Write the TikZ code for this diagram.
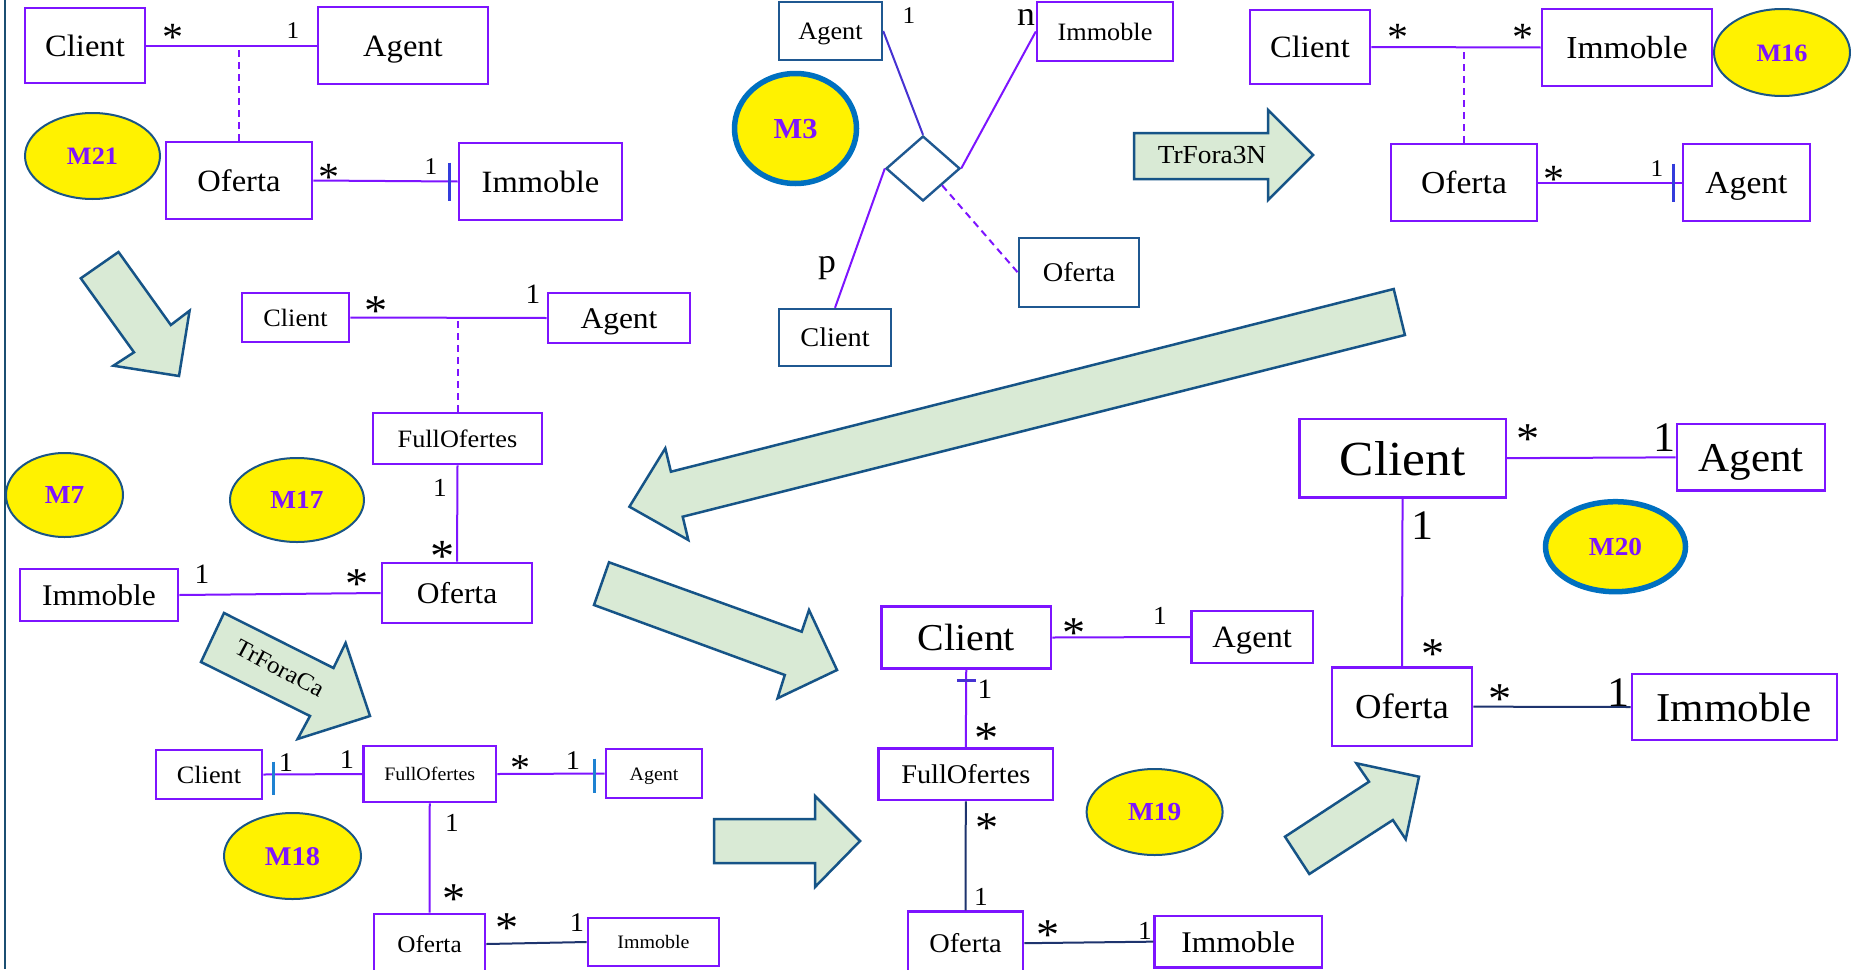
\documentclass[tikz,border=0pt]{standalone}
\usepackage{fontspec}
\setmainfont[FakeStretch=1.05]{Liberation Serif}
\usetikzlibrary{shapes.geometric,calc}
\definecolor{vio}{RGB}{125,20,255}
\definecolor{mblue}{RGB}{31,88,145}
\definecolor{navy}{RGB}{30,52,110}
\definecolor{tkb}{RGB}{50,60,220}
\definecolor{tkl}{RGB}{30,130,210}
\definecolor{agl}{RGB}{70,50,210}
\definecolor{arrb}{RGB}{22,84,135}
\definecolor{arrf}{RGB}{217,234,213}
\definecolor{elb}{RGB}{25,85,135}
\definecolor{elt}{RGB}{0,112,192}
\definecolor{brd}{RGB}{27,79,114}
\tikzset{
  fs/.code={\pgfmathsetmacro\tmpth{0.69*#1}\tikzset{font=\fontsize{#1}{#1}\selectfont, text height=\tmpth pt, text depth=0pt}},
  mf/.code={\pgfmathsetmacro\tmpth{0.69*#1}\tikzset{font=\fontsize{#1}{#1}\selectfont\bfseries, text height=\tmpth pt, text depth=0pt}},
  cls/.style={rectangle, draw=vio, line width=2.6, inner sep=0},
  clsb/.style={rectangle, draw=mblue, line width=2.4, inner sep=0},
  lnk/.style={draw=#1, line width=2},
  lnk/.default=vio,
  dsh/.style={dash pattern=on 7pt off 5pt},
  tk/.style={draw=#1, line width=2.5},
  one/.style={inner sep=0, font=\fontsize{#1}{#1}\selectfont},
  ast/.style={inner sep=0, font=\fontsize{#1}{#1}\selectfont, yshift={-0.14*#1}},
  mell/.style={ellipse, draw=elb, line width=2, fill=yellow, text=vio, inner sep=0},
  thk/.style={draw=elt, line width=5.5},
  arw/.style={draw=arrb, fill=arrf, line width=2.5, line join=miter}
}
\begin{document}
\begin{tikzpicture}[x=1pt,y=-1pt]
\useasboundingbox (0,0) rectangle (1851,969);
\clip (0,0) rectangle (1851,969);
\fill[white] (0,0) rectangle (1851,969);
\draw[brd, line width=2.5] (5,0) -- (5,969);

% ---------- M21 ----------
\node[cls, fs=31, minimum width=120, minimum height=75] (c1) at (85,45.5) {Client};
\node[cls, fs=31, minimum width=170, minimum height=77] (a1) at (403,45.5) {Agent};
\node[cls, fs=31, minimum width=146, minimum height=77] (o1) at (239,180.5) {Oferta};
\node[cls, fs=31, minimum width=163, minimum height=77] (i1) at (540.5,181.5) {Immoble};
\draw[lnk] (c1.east) -- (a1.west);
\draw[lnk, dsh] (o1.north) -- (o1.north |- c1.east);
\draw[lnk] (o1.east) -- (i1.west);
\draw[tk=tkb] ([xshift=-8]i1.west) ++(0,-19) -- ++(0,38);
\node[ast=40] (s1) at (173,32) {*};
\node[one=24] (u1) at (293,31) {1};
\node[ast=40] (s2) at (329,172) {*};
\node[one=24] (u2) at (431,167) {1};
\node[mell, mf=25, minimum width=135, minimum height=86] (e21) at (92.5,156) {M21};

% ---------- M3 ----------
\node[clsb, fs=25, minimum width=103, minimum height=58] (a2) at (830.5,31) {Agent};
\node[cls, line width=2.4, fs=25, minimum width=136, minimum height=59] (i2) at (1105,31.5) {Immoble};
\node[clsb, fs=27, minimum width=112, minimum height=57] (c3) at (835,337.5) {Client};
\node[clsb, fs=27, minimum width=120, minimum height=69] (o2) at (1079,272.5) {Oferta};
\node[diamond, draw=mblue, line width=2.4, minimum width=74, minimum height=65, inner sep=0] (d) at (923,168.5) {};
\draw[lnk=agl] (a2.east) -- (d.north);
\draw[lnk] (i2.west) -- (d.east);
\draw[lnk] (c3.north) -- (d.west);
\draw[lnk, dsh] ($(d.east)!0.5!(d.south)$) -- (o2.west);
\node[one=24] (u3) at (909,16) {1};
\node[one=34] (nn) at (1026,17) {n};
\node[one=34] (pp) at (827,268) {p};
\node[mell, thk, mf=29, minimum width=122, minimum height=110] (e3) at (795.5,128.5) {M3};

% arrow TrFora3N
\draw[arw] (1134,133) -- (1268,133) -- (1268,110) -- (1313,155) -- (1268,200) -- (1268,179) -- (1134,179) -- cycle;
\node[fs=26, inner sep=0] (t3n) at (1212,155) {TrFora3N};

% ---------- M16 ----------
\node[cls, fs=31, minimum width=120, minimum height=74] (c4) at (1310,47) {Client};
\node[cls, fs=32, minimum width=170, minimum height=77] (i4) at (1627,47.5) {Immoble};
\node[cls, fs=32, minimum width=146, minimum height=77] (o4) at (1464,182.5) {Oferta};
\node[cls, fs=32, minimum width=127, minimum height=77] (a4) at (1746.5,182.5) {Agent};
\draw[lnk] (c4.east) -- (i4.west);
\draw[lnk, dsh] (o4.north) -- (o4.north |- c4.east);
\draw[lnk] (o4.east) -- (a4.west);
\draw[tk=tkb] ([xshift=-8]a4.west) ++(0,-19) -- ++(0,38);
\node[ast=40] (s3) at (1398,32) {*};
\node[ast=40] (s4) at (1523,32) {*};
\node[ast=40] (s5) at (1554,174) {*};
\node[one=24] (u4) at (1657,169) {1};
\node[mell, mf=25, minimum width=136, minimum height=87] (e16) at (1782,52.5) {M16};

% arrow down-right (top left)
\draw[arw] (118.5,252) -- (170.8,325) -- (189.6,310.7) -- (179,376) -- (113.4,365.7) -- (134,352.3) -- (80.8,278.3) -- cycle;

% ---------- M17 ----------
\node[cls, fs=25, minimum width=107, minimum height=49] (c5) at (295.5,317.5) {Client};
\node[cls, fs=30, minimum width=142, minimum height=50] (a5) at (619,318) {Agent};
\node[cls, fs=25, minimum width=169, minimum height=51] (f5) at (457.5,438.5) {FullOfertes};
\node[cls, fs=30, minimum width=150, minimum height=60] (o5) at (457,593) {Oferta};
\node[cls, fs=30, minimum width=158, minimum height=52] (i5) at (99,595) {Immoble};
\draw[lnk] (c5.east) -- (a5.west);
\draw[lnk, dsh] (f5.north) -- (f5.north |- c5.east);
\draw[lnk] (f5.south) -- (o5.north);
\draw[lnk] (i5.east) -- (o5.west);
\node[ast=44] (s6) at (376,305) {*};
\node[one=28] (u5) at (533,294) {1};
\node[one=26] (u6) at (440,488) {1};
\node[ast=46] (s7) at (443,550) {*};
\node[one=28] (u7) at (202,574) {1};
\node[ast=44] (s8) at (357,578) {*};
\node[mell, mf=26, minimum width=117, minimum height=84] (e7) at (64.5,495) {M7};
\node[mell, mf=26, minimum width=134, minimum height=84] (e17) at (297,500) {M17};

% arrow TrForaCa
\draw[arw] (224,613) -- (333.5,668) -- (345.6,643) -- (370,716) -- (297.6,739) -- (310,716) -- (201,662) -- cycle;
\node[fs=24, inner sep=0, rotate=-28] (tca) at (280,668) {TrForaCa};

% ---------- M18 ----------
\node[cls, fs=25, minimum width=106, minimum height=49] (c6) at (209,774.5) {Client};
\node[cls, fs=19, minimum width=132.5, minimum height=56] (f6) at (429.75,774) {FullOfertes};
\node[cls, fs=19, minimum width=96, minimum height=49] (a6) at (654,773.5) {Agent};
\node[cls, fs=24, minimum width=111, minimum height=60] (o6) at (429.5,944) {Oferta};
\node[cls, fs=19, minimum width=131, minimum height=48] (i6) at (653.5,942) {Immoble};
\draw[lnk] (c6.east) -- (f6.west);
\draw[tk=tkl] ([xshift=10]c6.east) ++(0,-13) -- ++(0,33);
\draw[lnk] (f6.east) -- (a6.west);
\draw[tk=tkl] ([xshift=-10]a6.west) ++(0,-15) -- ++(0,34);
\draw[lnk] (f6.south) -- (o6.north);
\draw[lnk=navy] (o6.east) -- (i6.west);
\node[one=27] (u8) at (286,763) {1};
\node[one=27] (u9) at (347,760) {1};
\node[ast=38] (s9) at (520,763) {*};
\node[one=27] (u10) at (573,761) {1};
\node[one=26] (u11) at (452,823) {1};
\node[ast=44] (s10) at (454,893) {*};
\node[ast=44] (s11) at (507.5,922) {*};
\node[one=27] (u12) at (577,923) {1};
\node[mell, mf=27, minimum width=137, minimum height=86] (e18) at (292.5,856) {M18};

% arrow right (bottom middle)
\draw[arw] (714,819) -- (815,819) -- (815,796) -- (860,841) -- (815,887) -- (815,863) -- (714,863) -- cycle;

% big arrow pointing left
\draw[arw] (1393.7,289) -- (1404.9,335) -- (682.7,516.7) -- (688.3,540) -- (629.4,506.7) -- (665.3,448.3) -- (670.9,471.7) -- cycle;

% arrow down-right (middle)
\draw[arw] (609,562.3) -- (801.7,631.7) -- (809,610) -- (837,670) -- (777.5,698.3) -- (784.8,675) -- (594,605) -- cycle;

% ---------- M19 ----------
\node[cls, fs=38, minimum width=169.5, minimum height=61.6] (c7) at (966.25,637.5) {Client};
\node[cls, fs=31, minimum width=121.5, minimum height=52] (a7) at (1252.25,637) {Agent};
\node[cls, fs=27, minimum width=174.4, minimum height=51.7] (f7) at (965.8,774.15) {FullOfertes};
\node[cls, fs=27, minimum width=115, minimum height=63] (o7) at (965.5,943.2) {Oferta};
\node[cls, fs=30, minimum width=167.2, minimum height=51.3] (i7) at (1238.2,941.65) {Immoble};
\draw[lnk] (c7.east) -- (a7.west);
\draw[lnk] (c7.south) -- (f7.north);
\draw[tk=agl] ([yshift=-11]c7.south) ++(-9,0) -- ++(19,0);
\draw[lnk=navy] (f7.south) -- (o7.north);
\draw[lnk=navy] (o7.east) -- (i7.west);
\node[ast=44] (s12) at (1074,627) {*};
\node[one=26] (u13) at (1160,616) {1};
\node[one=28] (u14) at (985,689) {1};
\node[ast=46] (s13) at (987,732) {*};
\node[ast=44] (s14) at (987,822) {*};
\node[one=26] (u15) at (981,897) {1};
\node[ast=44] (s15) at (1048,929) {*};
\node[one=26] (u16) at (1145,931) {1};
\node[mell, mf=26, minimum width=136, minimum height=86] (e19) at (1154.6,812) {M19};

% arrow up-right
\draw[arw] (1285,836.7) -- (1369,781.7) -- (1356.4,763.3) -- (1419,776.7) -- (1405.7,839.3) -- (1392.9,820) -- (1309.3,874) -- cycle;

% ---------- M20 ----------
\node[cls, fs=49, minimum width=206.5, minimum height=78.3] (c8) at (1402.55,458.15) {Client};
\node[cls, fs=41, minimum width=148, minimum height=66.7] (a8) at (1751,457.35) {Agent};
\node[cls, fs=35, minimum width=140, minimum height=78.7] (o8) at (1402,706.65) {Oferta};
\node[cls, fs=41, minimum width=205, minimum height=66] (i8) at (1734.3,707) {Immoble};
\draw[lnk] (c8.east) -- (a8.west);
\draw[lnk] (c8.south) -- (o8.north);
\draw[lnk=navy] (o8.east) -- (i8.west);
\node[ast=44] (s16) at (1528,433) {*};
\node[one=42] (u17) at (1664,438) {1};
\node[one=42] (u18) at (1423,526) {1};
\node[ast=44] (s17) at (1433,648) {*};
\node[ast=44] (s18) at (1500,693) {*};
\node[one=42] (u19) at (1619,693) {1};
\node[mell, thk, mf=26, minimum width=140, minimum height=90] (e20) at (1615.5,546.7) {M20};
\end{tikzpicture}
\end{document}
